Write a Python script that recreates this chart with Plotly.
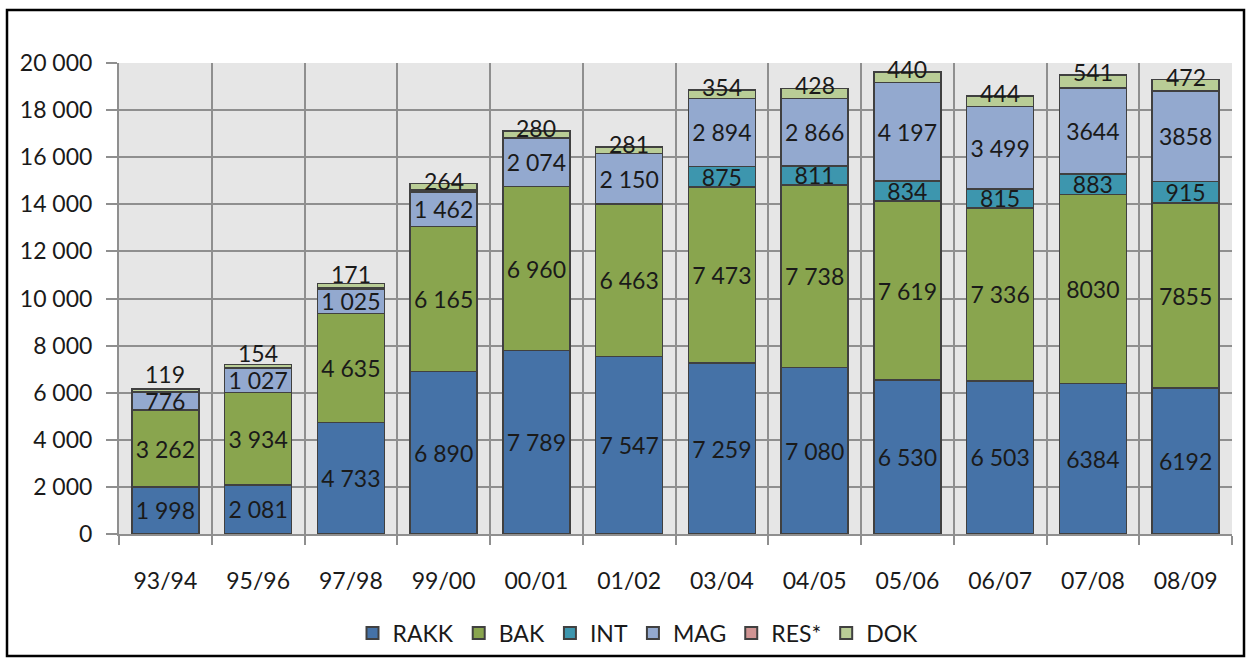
import plotly.graph_objects as go

categories = ['93/94', '95/96', '97/98', '99/00', '00/01', '01/02',
              '03/04', '04/05', '05/06', '06/07', '07/08', '08/09']
RAKK = [1998, 2081, 4733, 6890, 7789, 7547, 7259, 7080, 6530, 6503, 6384, 6192]
BAK = [3262, 3934, 4635, 6165, 6960, 6463, 7473, 7738, 7619, 7336, 8030, 7855]
INT = [None, None, None, None, None, None, 875, 811, 834, 815, 883, 915]
MAG = [776, 1027, 1025, 1462, 2074, 2150, 2894, 2866, 4197, 3499, 3644, 3858]
RES = [None, None, 80, 100, None, None, None, None, None, None, None, None]
DOK = [119, 154, 171, 264, 280, 281, 354, 428, 440, 444, 541, 472]
no_sep_cats = ['07/08', '08/09']

y_tickvals = [0, 2000, 4000, 6000, 8000, 10000, 12000, 14000, 16000, 18000, 20000]
y_ticktext = ['0', '2 000', '4 000', '6 000', '8 000', '10 000', '12 000',
              '14 000', '16 000', '18 000', '20 000']
Y_MAX = 20000

FONT = 'Lato'
TXT = '#1a1a1a'
FS = 23
FIG_W, FIG_H = 1253, 660


def fmt(v, cat):
    if v is None:
        return ''
    if cat in no_sep_cats:
        return str(v)
    return f'{v:,}'.replace(',', ' ')


series = [
    ('RAKK', RAKK, '#4572A7', True),
    ('BAK', BAK, '#89A54E', True),
    ('INT', INT, '#3D96AE', True),
    ('MAG', MAG, '#93A9CF', True),
    ('RES*', RES, '#D09493', False),
    ('DOK', DOK, '#B9CD96', False),
]

# plot-area geometry (pixels)
L, R, T, B = 119, 1232, 63, 534
W, H = R - L, B - T
PX_PER_UNIT = H / Y_MAX

fig = go.Figure()
for name, vals, color, labelled in series:
    fig.add_trace(go.Bar(
        name=name, x=categories, y=vals,
        marker=dict(color=color, line=dict(color='#404040', width=1.5)),
        text=[fmt(v, c) for v, c in zip(vals, categories)] if labelled else None,
        textposition='inside' if labelled else 'none',
        insidetextanchor='middle',
        textangle=0,
        textfont=dict(family=FONT, size=FS, color=TXT),
        cliponaxis=False,
    ))

# DOK labels on top of each stack, lifted to clear the MAG label below
for i, c in enumerate(categories):
    total = sum((s[1][i] or 0) for s in series)
    mag_top = sum((s[1][i] or 0) for s in series[:4])
    mag_center = mag_top - MAG[i] / 2
    gap_px = (total - mag_center) * PX_PER_UNIT
    shift = max(3, 27 - gap_px)
    fig.add_annotation(x=c, y=total, text=fmt(DOK[i], c), showarrow=False,
                       yanchor='middle', yshift=shift,
                       font=dict(family=FONT, size=FS, color=TXT))


def px(xp):
    return (xp - L) / W


def py(yp):
    return (B - yp) / H


# outer frame
fig.add_shape(type='rect', xref='paper', yref='paper',
              x0=px(7), x1=px(1244), y0=py(656), y1=py(10),
              line=dict(color='black', width=2.5), fillcolor='rgba(0,0,0,0)',
              layer='below')

grid = '#8f8f8f'
fig.update_layout(
    width=FIG_W, height=FIG_H,
    margin=dict(l=L, r=FIG_W - R, t=T, b=FIG_H - B, autoexpand=False),
    barmode='stack', bargap=0.28,
    paper_bgcolor='white', plot_bgcolor='#E6E6E6',
    font=dict(family=FONT, size=FS, color=TXT),
    uniformtext=dict(minsize=FS, mode='show'),
    showlegend=True,
    legend=dict(orientation='h', xref='container', yref='container',
                x=638 / FIG_W, xanchor='center', y=1 - 633 / FIG_H, yanchor='middle',
                traceorder='normal', font=dict(family=FONT, size=23, color=TXT),
                itemsizing='constant', bgcolor='rgba(0,0,0,0)'),
    xaxis=dict(type='category', tickson='boundaries', showgrid=True, gridcolor=grid,
               gridwidth=1.5, showline=True, linecolor=grid, linewidth=2,
               ticks='outside', ticklen=9, tickcolor=grid, tickwidth=2,
               tickfont=dict(family=FONT, size=FS, color=TXT), ticklabelstandoff=25),
    yaxis=dict(range=[0, Y_MAX], tickvals=y_tickvals, ticktext=y_ticktext,
               showgrid=True, gridcolor=grid, gridwidth=2, showline=True,
               linecolor=grid, linewidth=2, ticks='outside', ticklen=11,
               tickcolor=grid, tickwidth=2, zeroline=False,
               tickfont=dict(family=FONT, size=FS, color=TXT), ticklabelstandoff=9),
)

post = (
    "document.body.style.margin='0px';"
    "document.body.style.padding='0px';"
    "document.documentElement.style.overflow='hidden';"
)
fig.write_html('out.html', post_script=post, config={'displayModeBar': False})
